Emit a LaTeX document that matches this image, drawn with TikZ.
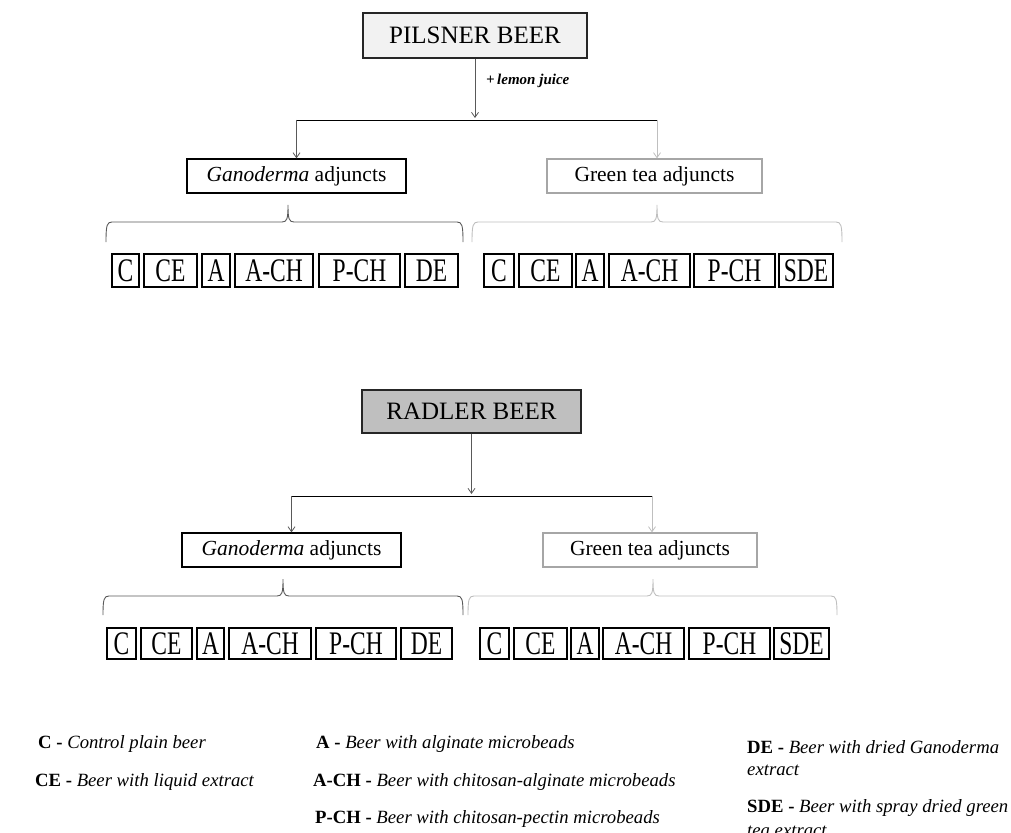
\documentclass[tikz,border=0pt]{standalone}
\usepackage{fontspec}
\usepackage{graphicx}
\setmainfont{Liberation Serif}
\usetikzlibrary{arrows.meta}
\definecolor{dgray}{HTML}{595959}
\definecolor{lgray}{HTML}{BFBFBF}
\definecolor{mgray}{HTML}{A6A6A6}
\definecolor{pfill}{HTML}{F2F2F2}
\definecolor{rfill}{HTML}{BFBFBF}
\newcommand{\tall}[1]{\scalebox{1}[1.4]{#1}}
\newcommand{\mybrace}[7]{%
  \draw[#1, line width=0.9pt] (#2,#7) .. controls (#2,{#6+3}) and ({#2+1},#6) .. ({#2+6},#6)
    -- ({#4-6},#6) .. controls ({#4-1},#6) and (#4,{#6-3}) .. (#4,#5)
    .. controls (#4,{#6-3}) and ({#4+1},#6) .. ({#4+6},#6)
    -- ({#3-6},#6) .. controls ({#3-1},#6) and (#3,{#6+3}) .. (#3,#7);}
\begin{document}
\begin{tikzpicture}[x=1pt,y=-1pt,
  beer/.style={draw=black!85, line width=1.4pt, inner sep=0pt, font=\fontsize{25}{30}\selectfont},
  adj/.style={draw, line width=1.3pt, inner sep=0pt, minimum height=34pt, font=\fontsize{21.5}{26}\selectfont},
  sbx/.style={draw, line width=1.2pt, inner sep=0pt, font=\fontsize{23.5}{28}\selectfont},
  link/.style={line width=0.9pt},
  arr/.style={-{Straight Barb[length=5pt,width=7pt]}, line width=0.8pt},
  leg/.style={anchor=base west, inner sep=0pt, font=\fontsize{18.7}{22}\selectfont},
]
\useasboundingbox (0,0) rectangle (1011,832);

% ---------- Pilsner ----------
\node[beer, fill=pfill, minimum width=224pt, minimum height=45pt] (pil) at (475,35.5) {PILSNER BEER};
\node[anchor=base west, inner sep=0pt, font=\fontsize{15}{18}\selectfont\bfseries\itshape] (lem) at (486,85) {+\,lemon juice};
\node[adj, minimum width=219pt] (gan1) at (296.5,176) {\textit{Ganoderma} adjuncts};
\node[adj, draw=mgray, minimum width=215pt] (grn1) at (654.5,176) {Green tea adjuncts};
\coordinate (h1a) at (296.5,120);
\coordinate (h1b) at (657,120);
\draw[arr, dgray] (pil.south) -- (pil.south |- 0,118);
\draw[link] (h1a) -- (h1b);
\draw[arr, dgray] (h1a) -- (gan1.north);
\draw[arr, lgray] (h1b) -- (h1b |- grn1.north);

\mybrace{dgray}{106}{463}{288}{205}{222}{242}
\mybrace{lgray}{472}{842}{657}{205}{222}{242}

\begin{scope}[every node/.style={sbx, minimum height=33pt}]
\node[minimum width=27pt] (g1C) at (125.5,270.5) {\tall{C}};
\node[minimum width=53pt] (g1CE) at (170.5,270.5) {\tall{CE}};
\node[minimum width=28pt] (g1A) at (216,270.5) {\tall{A}};
\node[minimum width=78pt] (g1ACH) at (274,270.5) {\tall{A-CH}};
\node[minimum width=81pt] (g1PCH) at (359.5,270.5) {\tall{P-CH}};
\node[minimum width=53pt] (g1DE) at (431.5,270.5) {\tall{DE}};
\node[minimum width=30pt] (t1C) at (499,270.5) {\tall{C}};
\node[minimum width=53pt] (t1CE) at (545.5,270.5) {\tall{CE}};
\node[minimum width=28pt] (t1A) at (590,270.5) {\tall{A}};
\node[minimum width=81pt] (t1ACH) at (649.5,270.5) {\tall{A-CH}};
\node[minimum width=81pt] (t1PCH) at (734.5,270.5) {\tall{P-CH}};
\node[minimum width=54pt] (t1SDE) at (806,270.5) {\tall{SDE}};
\end{scope}

% ---------- Radler ----------
\node[beer, fill=rfill, minimum width=219pt, minimum height=43pt] (rad) at (471.5,411.5) {RADLER BEER};
\node[adj, minimum width=219pt] (gan2) at (291.5,550) {\textit{Ganoderma} adjuncts};
\node[adj, draw=mgray, minimum width=214pt] (grn2) at (650,550) {Green tea adjuncts};
\coordinate (h2a) at (291.5,496);
\coordinate (h2b) at (652,496);
\draw[arr, dgray] (rad.south) -- (rad.south |- 0,494);
\draw[link] (h2a) -- (h2b);
\draw[arr, dgray] (h2a) -- (gan2.north);
\draw[arr, lgray] (h2b) -- (h2b |- grn2.north);

\mybrace{dgray}{103}{463}{283}{579}{596}{615}
\mybrace{lgray}{468}{837}{653}{579}{596}{615}

\begin{scope}[every node/.style={sbx, minimum height=31pt}]
\node[minimum width=29pt] (g2C) at (121.5,643.5) {\tall{C}};
\node[minimum width=51pt] (g2CE) at (166.5,643.5) {\tall{CE}};
\node[minimum width=27pt] (g2A) at (210.5,643.5) {\tall{A}};
\node[minimum width=82pt] (g2ACH) at (270,643.5) {\tall{A-CH}};
\node[minimum width=80pt] (g2PCH) at (356,643.5) {\tall{P-CH}};
\node[minimum width=51pt] (g2DE) at (426.5,643.5) {\tall{DE}};
\node[minimum width=29pt] (t2C) at (494.5,643.5) {\tall{C}};
\node[minimum width=53pt] (t2CE) at (540.5,643.5) {\tall{CE}};
\node[minimum width=28pt] (t2A) at (585,643.5) {\tall{A}};
\node[minimum width=81pt] (t2ACH) at (643.5,643.5) {\tall{A-CH}};
\node[minimum width=81pt] (t2PCH) at (729.5,643.5) {\tall{P-CH}};
\node[minimum width=55pt] (t2SDE) at (801.5,643.5) {\tall{SDE}};
\end{scope}

% ---------- Legend ----------
\node[leg] (lC) at (38,748) {\textbf{C -} \textit{Control plain beer}};
\node[leg] (lCE) at (35,786) {\textbf{CE -} \textit{Beer with liquid extract}};
\node[leg] (lA) at (316,748) {\textbf{A -} \textit{Beer with alginate microbeads}};
\node[leg] (lACH) at (313,786) {\textbf{A-CH -} \textit{Beer with chitosan-alginate microbeads}};
\node[leg] (lPCH) at (315,823) {\textbf{P-CH -} \textit{Beer with chitosan-pectin microbeads}};
\node[leg] (lDE) at (747,753) {\textbf{DE -} \textit{Beer with dried Ganoderma}};
\node[leg] (lDEb) at (747,775) {\textit{extract}};
\node[leg] (lSDE) at (747,812) {\textbf{SDE -} \textit{Beer with spray dried green}};
\node[leg] (lSDEb) at (747,836) {\textit{tea extract}};
\end{tikzpicture}
\end{document}
